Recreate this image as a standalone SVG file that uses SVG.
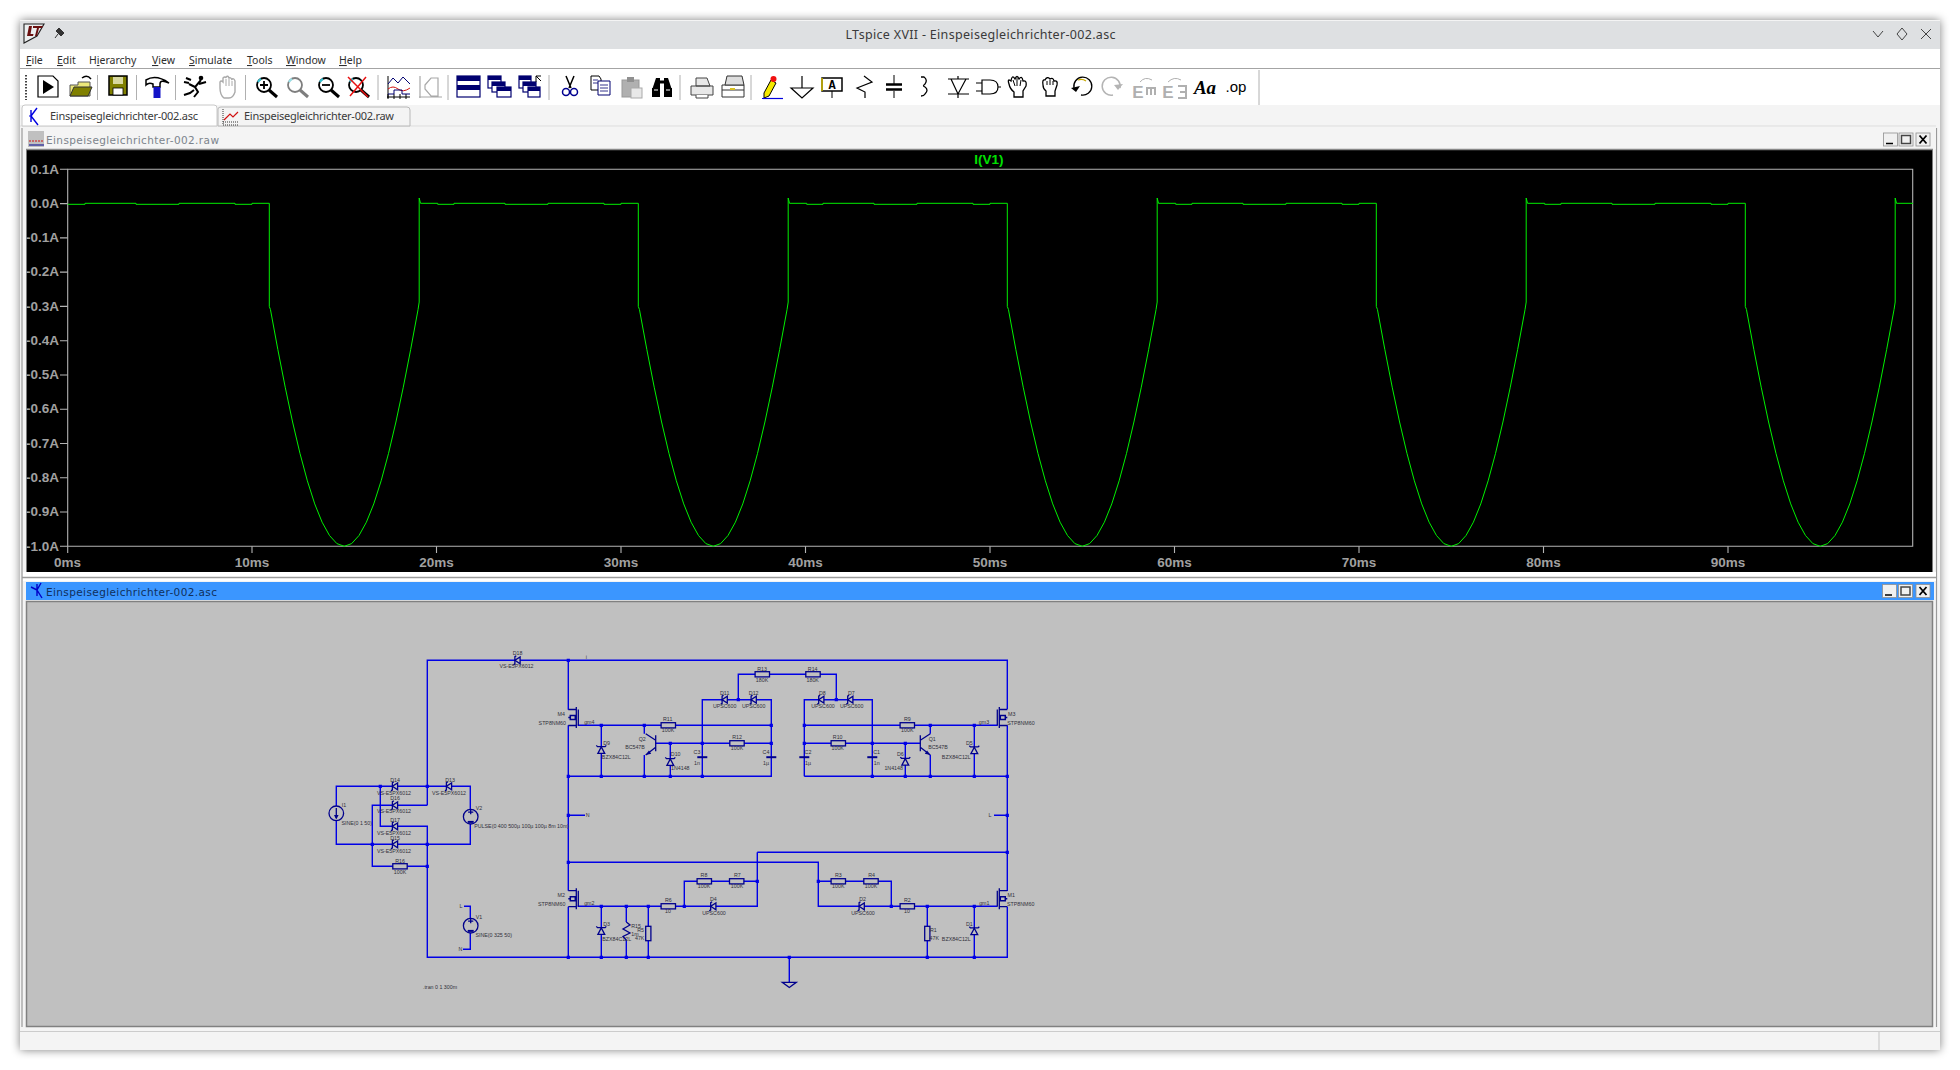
<svg xmlns="http://www.w3.org/2000/svg" width="1960" height="1070" viewBox="0 0 1960 1070">
<style>
.ui{font-family:"Noto Sans","Open Sans",sans-serif;fill:#3a3a3a}
.mn{font-size:10.5px;fill:#2e2e2e}
.u{text-decoration:underline}
.sub{font-family:"DejaVu Sans",sans-serif;font-size:10.5px}
.ax{font-family:"Liberation Sans",Arial,sans-serif;font-weight:bold;font-size:13.5px;fill:#a0a0a0}
.e{text-anchor:end}.m{text-anchor:middle}
.gl{stroke:#b4b4b4;stroke-width:1.1;fill:none}
.w{stroke:#0000e6;stroke-width:1.4;fill:none}
.j{stroke:#0000e6;stroke-width:3.2;stroke-linecap:square;fill:none}
.s{stroke:#00008c;stroke-width:1.3;fill:#c0c0c0}
.n{stroke:#00008c;stroke-width:1.3;fill:none}
.t{font-family:"Liberation Sans",Arial,sans-serif;font-size:5.300px;fill:#30303a;text-anchor:middle}
.b{stroke:#000;stroke-width:1.2;fill:none}
.g{stroke:#a8a8a8;stroke-width:1.2;fill:none}
.nv{stroke:#000070;stroke-width:1.2;fill:#fff}
.sep{stroke:#b0b0b0;stroke-width:1}
.btn{fill:#f0f0f0;stroke:#909090;stroke-width:.8}
.cv{fill:none;stroke:#00f000;stroke-width:1}
</style>
<defs>
<filter id="sh" x="-3%" y="-3%" width="106%" height="106%"><feGaussianBlur stdDeviation="5"/></filter>
<clipPath id="pc"><rect x="67" y="150" width="1846" height="400"/></clipPath>
<g id="res"><rect class="s" x="-7.2" y="-2.6" width="14.4" height="5.2"/></g>
<g id="sd"><path class="s" d="M2.6-3.4V3.4L-2.6 0Z"/><path class="n" d="M-1.2-4.6L-2.6-3.6V3.6L-4 4.6"/></g>
<g id="zn"><path class="s" d="M-3.4 3.4H3.4L0-3Z"/><path class="n" d="M-5-4.6L-3.8-3.4H3.8L5-4.6"/></g>
<g id="cap"><path stroke="#00008c" stroke-width="2" d="M-5-.8H5"/></g>
<g id="nm"><path class="n" d="M0-8H8M0 8H8M8-10.5V10.5M10-8V8"/><path stroke="#00008c" stroke-width="1.500" fill="none" d="M0 0H2V-2H7V2H2V0"/></g>
<g id="bjt"><path class="n" d="M0-8V8M0-3L10-9.6M0 4L10 11.7"/><path fill="#00008c" d="M10 11.7L4.500 10.500L6.800 7.100Z"/></g>
<g id="vs"><circle class="s" r="7.300"/><path class="n" d="M-2.600-4.600H2.600M0-7.200V-2.400"/><path stroke="#00008c" stroke-width="2" d="M-3 5.200H3"/></g>
<g id="lens"><circle r="7" fill="#fff" stroke="#000" stroke-width="1.800"/><path d="M5 5L13 12" stroke="#000" stroke-width="3"/><path d="M-6-3A7 7 0 0 1-3-6" stroke="#30c0d0" stroke-width="2" fill="none"/></g>
<path id="cy" class="cv" d="M269.300 203.300V306.500L270.450 309.500L277.830 349.500L285.210 387.200L292.590 422L299.970 453.400L307.350 480.800L314.730 503.900L322.110 522.200L329.490 535.500L336.870 543.600L344.250 546.300L351.630 543.600L359.010 535.500L366.390 522.200L373.770 503.900L381.150 480.800L388.530 453.400L395.910 422L403.290 387.200L410.670 349.500L418.050 309.500L419.200 302V198L420.500 203.300H437.700V204.300H454V203.300H505V204.300H548V203.300H604V204.300H621V203.300H638.300"/>
</defs>
<rect width="1960" height="1070" fill="#fff"/>
<rect x="20" y="20" width="1920" height="1030" fill="#000" opacity=".5" filter="url(#sh)"/>
<rect x="20" y="20" width="1920" height="1030" fill="#f4f4f4"/>
<g id="titlebar">
<rect x="20" y="21" width="1920" height="28" fill="#dee0e2"/>
<path d="M24 24H44L37 36L24 43Z" fill="#eceff0" stroke="#222" stroke-width="1.100"/>
<path d="M29 26L27 36H33L33.500 34H30.500L32 26ZM33 26H43L42 28H39L37 36H35L37 28H33Z" fill="#6a1010"/>
<path d="M55 38L58 34M57 29L63 35M59 28L64 33L61 36L56 31Z" fill="#333" stroke="#333" stroke-width="1"/>
<text class="ui" x="980.500" y="38.500" font-size="12.500" text-anchor="middle" textLength="270" lengthAdjust="spacing">LTspice XVII - Einspeisegleichrichter-002.asc</text>
<path d="M1873 31L1878 37L1883 31M1902 28L1907 34L1902 40L1897 34ZM1921 29L1931 39M1931 29L1921 39" fill="none" stroke="#444" stroke-width="1"/>
</g>
<g id="menubar">
<rect x="20" y="49" width="1920" height="19" fill="#fff"/>
<path d="M20 68.500H1940" stroke="#a4a4a4"/>
<text class="ui mn" x="26" y="64"><tspan class="u">F</tspan>ile</text>
<text class="ui mn" x="57" y="64"><tspan class="u">E</tspan>dit</text>
<text class="ui mn" x="89" y="64">H<tspan class="u">i</tspan>erarchy</text>
<text class="ui mn" x="152" y="64"><tspan class="u">V</tspan>iew</text>
<text class="ui mn" x="189" y="64"><tspan class="u">S</tspan>imulate</text>
<text class="ui mn" x="247" y="64"><tspan class="u">T</tspan>ools</text>
<text class="ui mn" x="286" y="64"><tspan class="u">W</tspan>indow</text>
<text class="ui mn" x="339" y="64"><tspan class="u">H</tspan>elp</text>
</g>
<g id="toolbar">
<rect x="20" y="69" width="1920" height="36" fill="#fff"/>
<path d="M26 75V100" stroke="#444" stroke-width="2" stroke-dasharray="1.500 1.500"/>
<path class="sep" d="M97.500 75V100M136.500 75V100M175.500 75V100M245.500 75V100M378 75V100M448 75V100M549 75V100M680 75V100M751 75V100M1259 70V105"/>
<path d="M38 76H53L58 81V97H38Z" fill="#fff" stroke="#000" stroke-width="1.200"/><path d="M43 80L54 87L43 94Z"/>
<path d="M70 85H78V82H90V96H70Z" fill="#ece87a" stroke="#555"/><path d="M70 96L74 87H92L88 96Z" fill="#808000" stroke="#333"/><path d="M82 78Q87 74 91 79" fill="none" stroke="#000" stroke-width="1.500"/>
<path d="M109 76H127V95H109Z" fill="#808000" stroke="#000" stroke-width="1.500"/><rect x="113" y="77" width="10" height="7" fill="#d8d8a0"/><rect x="113" y="88" width="10" height="7" fill="#fff" stroke="#000" stroke-width=".8"/>
<path d="M146 80Q156 74 169 83Q160 79 160 84V87H153V84Q149 82 146 85Z" fill="#fff" stroke="#000" stroke-width="1.500"/><rect x="153.500" y="87" width="7" height="11" fill="#1414c8"/>
<circle cx="201" cy="78" r="2.300"/><path d="M201 80L195 87L198 92L194 97M195 87L189 84M199 84L206 82M184 95L190 93L194 90M186 78L191 80M184 82L189 83" fill="none" stroke="#000" stroke-width="2"/>
<path d="M220 88V82Q221 80 223 82V78Q225 76 226 78V77Q228 75 229 78Q231 77 232 80V79Q234 78 235 81V92Q233 98 229 98H224Q220 95 220 88Z" fill="#fff" stroke="#aaa" stroke-width="1.400"/><path d="M226 79V86M229 79V86M232 81V86" stroke="#aaa"/>
<use href="#lens" x="264" y="85"/><path d="M260 85H268M264 81V89" stroke="#000" stroke-width="1.800"/>
<g opacity=".5"><use href="#lens" x="295" y="85"/></g>
<use href="#lens" x="326" y="85"/><path d="M322 85H330" stroke="#000" stroke-width="1.800"/>
<use href="#lens" x="356" y="85"/><path d="M348 77L368 97M366 77L350 96" stroke="#e81010" stroke-width="1.500"/>
<path d="M387 97H410M388 76V98M388 94V99M394 94V99M400 94V99M406 94V99" stroke="#000" stroke-width="1"/><path d="M388 84L393 78L398 83L403 77L410 84" fill="none" stroke="#000070" stroke-width="1"/><path d="M388 89Q393 85 398 89T410 88" fill="none" stroke="#d01010"/><path d="M388 94H394V90H402V94H410" fill="none" stroke="#000070"/>
<path class="g" d="M419 97H442M420 76V98M425 85L431 78H438V96H431L425 89Z"/>
<g id="tile"><rect x="457" y="76" width="23" height="21" fill="#fff" stroke="#000070" stroke-width="1.200"/><rect x="457" y="76" width="23" height="5" fill="#000070"/><rect x="457" y="85" width="23" height="5" fill="#000070"/></g>
<rect x="488" y="76" width="13" height="12" class="nv"/><path d="M488 78H501" stroke="#000070" stroke-width="4"/><rect x="492" y="82" width="13" height="10" class="nv"/><path d="M492 84H505" stroke="#000070" stroke-width="4"/><rect x="497" y="87" width="14" height="10" class="nv"/><path d="M497 89H511" stroke="#000070" stroke-width="4"/>
<rect x="519" y="76" width="12" height="12" class="nv"/><path d="M519 78H531" stroke="#000070" stroke-width="4"/><rect x="523" y="82" width="13" height="10" class="nv"/><path d="M523 84H536" stroke="#000070" stroke-width="4"/><rect x="528" y="87" width="12" height="10" class="nv"/><path d="M528 89H540" stroke="#000070" stroke-width="4"/><path d="M536 82V76H541M536 76L541 81" stroke="#000" fill="none"/>
<path d="M566 76L571 88M574 76L569 88" stroke="#000" stroke-width="1.500"/><circle cx="566" cy="92" r="3.500" fill="none" stroke="#000090" stroke-width="1.500"/><circle cx="574" cy="92" r="3.500" fill="none" stroke="#000090" stroke-width="1.500"/>
<path d="M591 76H599L601 79V90H591Z" fill="#fff" stroke="#000"/><path d="M598 81H610V95H598Z" fill="#fff" stroke="#000070"/><path d="M593 80H598M593 83H598M600 85H608M600 88H608M600 91H608" stroke="#000070" stroke-width=".8"/>
<rect x="622" y="80" width="17" height="17" fill="#b0b0b0" stroke="#999"/><rect x="627" y="77" width="7" height="5" fill="#909090"/><rect x="631" y="88" width="11" height="10" fill="#e8e8e8" stroke="#aaa"/>
<path d="M652 90L656 78H660V90ZM664 78H668L672 90H664Z" fill="#000"/><rect x="652" y="88" width="8" height="9" fill="#000"/><rect x="664" y="88" width="8" height="9" fill="#000"/><path d="M660 82H664" stroke="#000" stroke-width="3"/><path d="M654 90H658M666 90H670" stroke="#fff"/>
<path d="M691 86H713V95H691ZM696 78H707L710 86H696Z" fill="#e8e8e8" stroke="#444"/><path d="M696 95V98H708V95" fill="#fff" stroke="#444"/>
<path d="M722 85H744V97H722Z" fill="#fff" stroke="#333"/><path d="M727 76H742L744 85H725Z" fill="#ddd" stroke="#333"/><path d="M722 90H744" stroke="#333"/><rect x="730" y="88" width="5" height="2" fill="#d8c020"/>
<path d="M764 93L771 80L776 83L769 96L764 98Z" fill="#f4e800" stroke="#000"/><circle cx="773.500" cy="79" r="3" fill="#f01010"/><path d="M762 98.500H783" stroke="#0000e0" stroke-width="1.200"/>
<path class="b" d="M802 76V88M791 88H813L802 98Z"/>
<rect x="822" y="78" width="20" height="13" fill="#fff" stroke="#000" stroke-width="1.500"/><path d="M822 78V91" stroke="#d8c000" stroke-width="1.500"/><text x="832" y="89" font-family="Liberation Mono,monospace" font-weight="bold" font-size="12" text-anchor="middle">A</text><path d="M832 91V98" stroke="#000"/>
<path class="b" d="M864 76L872 82L857 88L865 92V98"/>
<path d="M894 75V84M894 91V98" stroke="#000"/><path d="M886 84.500H902M886 89.500H902" stroke="#000" stroke-width="2.500"/>
<path d="M921 77H924Q928 80 925 84Q922 86 925 87Q929 90 925 94Q924 96 921 96" fill="none" stroke="#000" stroke-width="1.300"/>
<path class="b" d="M948 79H969M958 76V79M948 94H969M958 94V98M951 79L958 94L966 79"/>
<path class="b" d="M976 83H982M976 91H982M982 80H990Q998 80 998 87Q998 94 990 94H982ZM998 87H1001"/>
<path d="M1009 84Q1007 78 1011 81Q1012 74 1015 79Q1017 74 1019 79Q1022 75 1023 81Q1027 80 1026 86L1023 91V97H1014V92Q1010 89 1009 84Z" fill="#fff" stroke="#000" stroke-width="1.300"/><path d="M1013 80L1015 86M1017 78V86M1021 80L1020 86" stroke="#000"/>
<path d="M1043 85Q1042 79 1045 80Q1047 76 1050 79Q1053 77 1054 81Q1058 80 1057 85L1055 91V96H1046V91Q1043 89 1043 85Z" fill="#fff" stroke="#000" stroke-width="1.300"/><path d="M1047 81V85M1050 80V85M1053 81V85" stroke="#000"/>
<path d="M1074 88A9 9 0 1 1 1081 95" fill="none" stroke="#000" stroke-width="1.300"/><path d="M1071 88L1076 92L1080 86Z"/><path d="M1078 80A9 9 0 0 1 1086 81" fill="none" stroke="#c8a800" stroke-width="1.300"/>
<path d="M1120 88A9 9 0 1 0 1113 95" fill="none" stroke="#b4b4b4" stroke-width="1.500"/><path d="M1123 84L1118 90L1114 85Z" fill="#b4b4b4"/>
<g fill="#b0b0b0" font-family="Liberation Sans,sans-serif" font-weight="bold"><text x="1138" y="98" font-size="17" text-anchor="middle">E</text><text x="1168" y="98" font-size="17" text-anchor="middle">E</text></g>
<path d="M1140 82Q1145 76 1152 80M1168 82Q1174 76 1181 80" fill="none" stroke="#b0b0b0"/><path d="M1147 90V88H1155V90M1147 88V95M1151 88V95M1155 88V95M1178 86H1186V98H1178M1180 92H1186" fill="none" stroke="#b0b0b0" stroke-width="2"/>
<text x="1205" y="94" font-family="Liberation Serif,serif" font-style="italic" font-weight="bold" font-size="19" text-anchor="middle">Aa</text>
<text x="1236" y="92" font-family="Liberation Sans,sans-serif" font-size="15" text-anchor="middle">.op</text>
</g>
<g id="tabs">
<rect x="20" y="105" width="1920" height="21" fill="#f4f4f4"/>
<path d="M20 126H1936" stroke="#ddd"/>
<path d="M22 126V108Q22 105 25 105H214Q217 105 217 108V126Z" fill="#fff" stroke="#c8c8c8"/>
<path d="M218 126V109Q218 107 221 107H407Q410 107 410 110V126Z" fill="#f4f4f4" stroke="#b8b8b8"/>
<path d="M31 110V122M31 116L37 108M31 116L38 125" stroke="#0000e0" stroke-width="1.400" fill="none"/><path d="M31 116H29" stroke="#0000e0"/>
<path d="M223 109V125H238M223 122H238" stroke="#333" stroke-dasharray="1 1" fill="none"/><path d="M224 120L230 114L233 117L238 112" fill="none" stroke="#d01010" stroke-width="1.200"/>
<text class="ui" x="50" y="120" font-size="11" textLength="148" lengthAdjust="spacing">Einspeisegleichrichter-002.asc</text>
<text class="ui" x="244" y="120" font-size="11" textLength="150" lengthAdjust="spacing">Einspeisegleichrichter-002.raw</text>
</g>
<g id="mdi">
<path d="M22 128V1027M1936.500 128V1027" stroke="#9a9a9a" stroke-width="1.200"/>
<rect x="23" y="128" width="1913" height="21" fill="#f4f4f4"/>
<rect x="23" y="572" width="1913" height="9" fill="#fff"/><path d="M22 577.500H1937" stroke="#9a9a9a" stroke-width="1.600"/>
</g>
<g id="waveform-window">
<rect x="28" y="131" width="16" height="16" fill="#c0c0c0"/><path d="M29 141H44" stroke="#d01010" stroke-dasharray="2 1"/><path d="M29 145H44" stroke="#000090"/>
<text class="ui sub" x="46" y="144" style="fill:#7c848c" textLength="173" lengthAdjust="spacing">Einspeisegleichrichter-002.raw</text>
<path d="M26.500 149V572H1932.500V149Z" fill="#000"/>
<path d="M26 149.500H1933" stroke="#888" stroke-width="1.500"/>
<g><rect class="btn" x="1883.500" y="133" width="14" height="13"/><rect class="btn" x="1899" y="133" width="14" height="13"/><rect class="btn" x="1916" y="133" width="14" height="13"/><path d="M1886 143.500H1893" stroke="#000" stroke-width="1.500"/><rect x="1901.500" y="135.500" width="9" height="8" fill="none" stroke="#444" stroke-width="1.500"/><path d="M1919.500 135.500L1926.500 143.500M1926.500 135.500L1919.500 143.500" stroke="#000" stroke-width="1.800"/></g>
<path class="gl" d="M67.700 169.300H1912.700V546.300H67.700Z"/>
<path class="gl" d="M60 169.300H67.700M60 203.600H67.700M60 237.900H67.700M60 272.100H67.700M60 306.400H67.700M60 340.700H67.700M60 375H67.700M60 409.200H67.700M60 443.500H67.700M60 477.800H67.700M60 512H67.700M60 546.300H67.700M67.700 546.300V553M252 546.300V553M436.500 546.300V553M621 546.300V553M805.500 546.300V553M990 546.300V553M1174.500 546.300V553M1359 546.300V553M1543.500 546.300V553M1728 546.300V553"/>
<g class="ax">
<text class="e" x="59" y="173.500">0.1A</text><text class="e" x="59" y="207.800">0.0A</text><text class="e" x="59" y="242.100">-0.1A</text><text class="e" x="59" y="276.300">-0.2A</text><text class="e" x="59" y="310.600">-0.3A</text><text class="e" x="59" y="344.900">-0.4A</text><text class="e" x="59" y="379.200">-0.5A</text><text class="e" x="59" y="413.400">-0.6A</text><text class="e" x="59" y="447.700">-0.7A</text><text class="e" x="59" y="482">-0.8A</text><text class="e" x="59" y="516.200">-0.9A</text><text class="e" x="59" y="550.500">-1.0A</text>
<text class="m" x="67.500" y="567">0ms</text><text class="m" x="252" y="567">10ms</text><text class="m" x="436.500" y="567">20ms</text><text class="m" x="621" y="567">30ms</text><text class="m" x="805.500" y="567">40ms</text><text class="m" x="990" y="567">50ms</text><text class="m" x="1174.500" y="567">60ms</text><text class="m" x="1359" y="567">70ms</text><text class="m" x="1543.500" y="567">80ms</text><text class="m" x="1728" y="567">90ms</text>
</g>
<text class="ax m" x="989" y="164" style="fill:#00e000">I(V1)</text>
<g clip-path="url(#pc)">
<path class="cv" d="M67.700 204.300H85V203.300H136V204.300H179V203.300H235V204.300H252V203.300H269.300"/>
<use href="#cy"/><use href="#cy" x="369"/><use href="#cy" x="738"/><use href="#cy" x="1107"/><use href="#cy" x="1476"/>
</g>
</g>
<g id="schematic-window">
<rect x="26" y="582" width="1908" height="18" fill="#3b96ff"/>
<path d="M37 584V596M37 590L31 587M37 590L41 583M37 590L42 598" stroke="#0000c8" stroke-width="1.400" fill="none"/>
<text class="sub" x="46" y="596" style="fill:#10305c" textLength="171" lengthAdjust="spacing">Einspeisegleichrichter-002.asc</text>
<g><rect class="btn" x="1882.500" y="584.500" width="14" height="13"/><rect class="btn" x="1898.500" y="584.500" width="14" height="13"/><rect class="btn" x="1916" y="584.500" width="14" height="13"/><path d="M1885 595H1892" stroke="#000" stroke-width="1.500"/><rect x="1901" y="587" width="9" height="8" fill="none" stroke="#444" stroke-width="1.500"/><path d="M1919.500 587L1926.500 595M1926.500 587L1919.500 595" stroke="#000" stroke-width="1.800"/></g>
<rect x="26.500" y="601.500" width="1906" height="425" fill="#c0c0c0" stroke="#808080" stroke-width="1.500"/>
</g>
<g id="connectors">
<path class="w" d="M427.300 805.300V660.300H1007.300V709.300M1007.300 725.300V891M1007.300 906.700V957.300H427.300V826.300H380.300V786.300M336.300 786.300H470.300V844.300H336.300ZM427.300 805.300H372.300V866.300H427.300M464 906.300H470.300V949.300H463M568.300 660.300V709.700M568.300 725.300V890.700M568.300 906.700V957.300M568.300 776.300H771.300V699.700H702.300V776.300M577.700 725.300H771.300M601.300 725.300V776.300M644.300 725.300V733.700M644.300 755V776.300M655.700 743.300H771.300M670.300 743.300V776.300M738.300 699.700V674.300H836.300V699.700M804.300 776.300V699.700H872.300V776.300M804.300 776.300H1007.300M804.300 725.300H997.700M804.300 743.300H920.300M905.300 743.300V776.300M930.300 725.300V733.700M930.300 755V776.300M974.300 725.300V776.300M568.300 815.300H585M994 815.300H1007.300M568.300 862.300H818.300V906.300H997M757.300 852.300H1007.300M757.300 852.300V906.300H577.700M684.300 906.300V881.300H757.300M818.300 881.300H891.300V906.300M601.300 906.300V957.300M626.300 906.300V922M626.300 940V957.300M648.300 906.300V957.300M927.300 906.300V957.300M974.300 906.300V957.300M789.300 957.300V982.300"/>
<path class="j" d="M380.300 786.300h0M427.300 786.300h0M372.300 844.300h0M427.300 844.300h0M427.300 866.300h0M568.300 660.300h0M568.300 776.300h0M568.300 815.300h0M568.300 862.300h0M568.300 957.300h0M601.300 725.300h0M644.300 725.300h0M771.300 725.300h0M670.300 743.300h0M702.300 743.300h0M771.300 743.300h0M601.300 776.300h0M644.300 776.300h0M670.300 776.300h0M702.300 776.300h0M738.300 699.700h0M836.300 699.700h0M804.300 725.300h0M804.300 743.300h0M872.300 743.300h0M872.300 776.300h0M905.300 743.300h0M905.300 776.300h0M930.300 725.300h0M930.300 776.300h0M974.300 725.300h0M974.300 776.300h0M1007.300 776.300h0M1007.300 815.300h0M1007.300 852.300h0M601.300 906.300h0M626.300 906.300h0M648.300 906.300h0M684.300 906.300h0M757.300 881.300h0M818.300 881.300h0M891.300 906.300h0M927.300 906.300h0M974.300 906.300h0M601.300 957.300h0M626.300 957.300h0M648.300 957.300h0M789.300 957.300h0M927.300 957.300h0M974.300 957.300h0"/>
</g>
<g id="D18"><use href="#sd" x="517.500" y="660.300"/><text class="t" x="517.500" y="655">D18</text><text class="t" x="516.500" y="668">VS-E5PX6012</text></g>
<g id="D14"><use href="#sd" x="395" y="786.300"/><text class="t" x="395" y="782">D14</text><text class="t" x="394" y="795">VS-E5PX6012</text></g>
<g id="D13"><use href="#sd" x="449" y="786.300"/><text class="t" x="450" y="782">D13</text><text class="t" x="449" y="795">VS-E5PX6012</text></g>
<g id="D16"><use href="#sd" x="395" y="805.300"/><text class="t" x="395" y="800">D16</text><text class="t" x="394" y="813">VS-E5PX6012</text></g>
<g id="D17"><use href="#sd" x="395" y="826.300"/><text class="t" x="395" y="821.700">D17</text><text class="t" x="394" y="835">VS-E5PX6012</text></g>
<g id="D15"><use href="#sd" x="395" y="844.300"/><text class="t" x="395" y="840">D15</text><text class="t" x="394" y="853">VS-E5PX6012</text></g>
<g id="R16"><use href="#res" x="400" y="866.300"/><text class="t" x="400" y="863">R16</text><text class="t" x="400" y="874.300">100K</text></g>
<g id="I1"><circle class="s" cx="336.300" cy="813.300" r="7.300"/><path class="n" d="M336.300 808V818"/><path fill="#00008c" d="M336.300 819.500L334 815H338.600Z"/><text class="t" x="344" y="807">I1</text><text class="t" x="356.700" y="825">SINE(0 1 50)</text></g>
<g id="V2"><use href="#vs" x="470.700" y="816.700"/><text class="t" x="479" y="810">V2</text><text class="t" x="521.700" y="828">PULSE(0 400 500µ 100µ 100µ 8m 10m)</text></g>
<g id="V1"><use href="#vs" x="470.700" y="925.700"/><text class="t" x="479" y="919">V1</text><text class="t" x="493.700" y="937">SINE(0 325 50)</text><text class="t" x="461" y="908">L</text><text class="t" x="460.300" y="951">N</text></g>
<g id="netlabels"><text class="t" x="587.700" y="817">N</text><text class="t" x="990" y="817">L</text><text class="t" x="586.300" y="659">i</text><text class="t" x="440" y="989">.tran 0 1 300m</text></g>
<g id="M4"><use href="#nm" x="568.300" y="717.500"/><text class="t" x="561.300" y="715.700">M4</text><text class="t" x="552.300" y="725">STP8NM60</text><text class="t" x="589.300" y="724">gm4</text></g>
<g id="M2"><use href="#nm" x="568.300" y="898.700"/><text class="t" x="561.300" y="897">M2</text><text class="t" x="551.700" y="906">STP8NM60</text><text class="t" x="589.300" y="905.300">gm2</text></g>
<g id="M3"><use href="#nm" transform="translate(1007.300 717.500) scale(-1 1)"/><text class="t" x="1011.700" y="715.700">M3</text><text class="t" x="1021" y="725">STP8NM60</text><text class="t" x="984" y="724">gm3</text></g>
<g id="M1"><use href="#nm" transform="translate(1007.300 898.700) scale(-1 1)"/><text class="t" x="1011.300" y="897">M1</text><text class="t" x="1020.700" y="905.700">STP8NM60</text><text class="t" x="984.300" y="905">gm1</text></g>
<g id="D9"><use href="#zn" x="601.300" y="750"/><text class="t" x="606.700" y="745">D9</text><text class="t" x="616.300" y="759.300">BZX84C12L</text></g>
<g id="D3"><use href="#zn" x="601.300" y="931"/><text class="t" x="606.700" y="926">D3</text><text class="t" x="616.700" y="941">BZX84C12L</text></g>
<g id="D5"><use href="#zn" x="974.300" y="750.300"/><text class="t" x="969.300" y="745">D5</text><text class="t" x="956.300" y="759">BZX84C12L</text></g>
<g id="D1"><use href="#zn" x="974.300" y="931.300"/><text class="t" x="969.300" y="926">D1</text><text class="t" x="956.300" y="941">BZX84C12L</text></g>
<g id="D10"><use href="#zn" x="670.300" y="762"/><text class="t" x="675.700" y="755.700">D10</text><text class="t" x="680.300" y="770">1N4148</text></g>
<g id="D6"><use href="#zn" x="905.300" y="761.700"/><text class="t" x="900.300" y="756">D6</text><text class="t" x="893.700" y="770">1N4148</text></g>
<g id="Q2"><use href="#bjt" transform="translate(655.700 743.300) scale(-1 1)"/><text class="t" x="642.300" y="741">Q2</text><text class="t" x="635" y="749">BC547B</text></g>
<g id="Q1"><use href="#bjt" x="920.300" y="743.300"/><text class="t" x="932.300" y="741">Q1</text><text class="t" x="938" y="749">BC547B</text></g>
<g id="R11"><use href="#res" x="668.300" y="725.300"/><text class="t" x="667.700" y="721">R11</text><text class="t" x="668" y="732">100K</text></g>
<g id="R12"><use href="#res" x="737" y="743.300"/><text class="t" x="737" y="739">R12</text><text class="t" x="737" y="750">100K</text></g>
<g id="R9"><use href="#res" x="907.300" y="725.300"/><text class="t" x="907.300" y="721">R9</text><text class="t" x="907.300" y="732">100K</text></g>
<g id="R10"><use href="#res" x="838.300" y="743.300"/><text class="t" x="837.700" y="739">R10</text><text class="t" x="837.700" y="750">100K</text></g>
<g id="R13"><use href="#res" x="762.300" y="674.300"/><text class="t" x="762" y="671">R13</text><text class="t" x="762" y="682">180K</text></g>
<g id="R14"><use href="#res" x="813" y="674.300"/><text class="t" x="812.700" y="671">R14</text><text class="t" x="812.700" y="682">180K</text></g>
<g id="D11"><use href="#sd" x="724.700" y="699.700"/><text class="t" x="724.700" y="695">D11</text><text class="t" x="724.700" y="708">UPSC600</text></g>
<g id="D12"><use href="#sd" x="753.700" y="699.700"/><text class="t" x="753.700" y="695">D12</text><text class="t" x="753.700" y="708">UPSC600</text></g>
<g id="D8"><use href="#sd" x="821.300" y="699.700"/><text class="t" x="822.300" y="695">D8</text><text class="t" x="823" y="708">UPSC600</text></g>
<g id="D7"><use href="#sd" x="850.300" y="699.700"/><text class="t" x="851.300" y="695">D7</text><text class="t" x="851.700" y="708">UPSC600</text></g>
<g id="C3"><use href="#cap" x="702.300" y="758"/><text class="t" x="697" y="754">C3</text><text class="t" x="697" y="764.700">1n</text></g>
<g id="C4"><use href="#cap" x="771.300" y="758"/><text class="t" x="766" y="754">C4</text><text class="t" x="766" y="765">1µ</text></g>
<g id="C2"><use href="#cap" x="804.300" y="758"/><text class="t" x="808" y="754">C2</text><text class="t" x="808" y="765">1µ</text></g>
<g id="C1"><use href="#cap" x="872.300" y="758"/><text class="t" x="876.700" y="754">C1</text><text class="t" x="876.700" y="765">1n</text></g>
<g id="R6"><use href="#res" x="668.300" y="906.300"/><text class="t" x="668.300" y="902">R6</text><text class="t" x="668" y="913">10</text></g>
<g id="R8"><use href="#res" x="704.300" y="881.300"/><text class="t" x="704" y="877">R8</text><text class="t" x="704" y="888">100K</text></g>
<g id="R7"><use href="#res" x="736.700" y="881.300"/><text class="t" x="737.300" y="877">R7</text><text class="t" x="737" y="888">100K</text></g>
<g id="D4"><use href="#sd" x="713.300" y="906.300"/><text class="t" x="713.300" y="901">D4</text><text class="t" x="714" y="915">UPSC600</text></g>
<g id="R15"><path class="n" d="M626.300 922L630 925L623 929L630 933L623 936.500L626.300 940"/><text class="t" x="636" y="928">R15</text><text class="t" x="635" y="936.300">1m</text></g>
<g id="R5"><use href="#res" transform="translate(648.300 933.500) rotate(90)"/><text class="t" x="640.700" y="932">R5</text><text class="t" x="639.700" y="940">47K</text></g>
<g id="R3"><use href="#res" x="838.300" y="881.300"/><text class="t" x="838.300" y="877">R3</text><text class="t" x="838.300" y="888">100K</text></g>
<g id="R4"><use href="#res" x="871" y="881.300"/><text class="t" x="871.700" y="877">R4</text><text class="t" x="871" y="888">100K</text></g>
<g id="D2"><use href="#sd" x="861.700" y="906.300"/><text class="t" x="862.700" y="901">D2</text><text class="t" x="863" y="915">UPSC600</text></g>
<g id="R2"><use href="#res" x="907.300" y="906.300"/><text class="t" x="907.300" y="902">R2</text><text class="t" x="907" y="913">10</text></g>
<g id="R1"><use href="#res" transform="translate(927.300 933.500) rotate(90)"/><text class="t" x="933.300" y="932">R1</text><text class="t" x="934.300" y="940">47K</text></g>
<g id="GND"><path class="s" d="M782.300 982.300H796.300L789.300 987.500Z"/></g>
<g id="statusbar">
<rect x="20" y="1028" width="1920" height="22" fill="#f4f4f4"/>
<path d="M20 1031.500H1940" stroke="#ccc"/><path d="M1879 1032V1050" stroke="#c4c4c4"/>
</g>
</svg>
